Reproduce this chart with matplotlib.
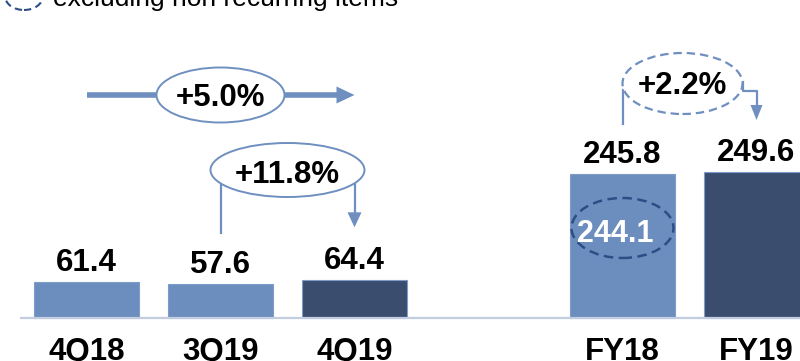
import matplotlib
matplotlib.use("Agg")
import matplotlib.pyplot as plt
from matplotlib.patches import Ellipse, Polygon

plt.rcParams['font.family'] = ['Liberation Sans', 'DejaVu Sans']

# ---- data -------------------------------------------------------------
categories = ["4Q18", "3Q19", "4Q19", "FY18", "FY19"]
slots = [0, 1, 2, 4, 5]
values = [61.4, 57.6, 64.4, 245.8, 249.6]
value_labels = ["61.4", "57.6", "64.4", "245.8", "249.6"]
adjusted_fy18 = 244.1
adjusted_label = "244.1"
growth_labels = ["+5.0%", "+11.8%", "+2.2%"]
legend_text = "excluding non recurring items"

# ---- style ------------------------------------------------------------
LIGHT = "#6C8EBF"
DARK = "#3A4D6E"
EDGE = "#7F9BC7"
LINE = "#6F8FC0"
NAVY = "#2C4E86"
AXIS = "#C3CDE0"
bar_colors = [LIGHT, LIGHT, DARK, LIGHT, DARK]

W, H, DPI = 800, 361, 100
SLOT_PX = 134.0          # pixels between neighbouring slots
SLOT0_PX = 86.5          # pixel x of slot 0
UNIT_PX = 0.585          # pixels per value unit
BASE_PX = 318.0          # pixel row of the zero line (from top)

fig = plt.figure(figsize=(W / DPI, H / DPI), dpi=DPI)
ax = fig.add_axes([0, 0, 1, 1])
ax.set_xlim(-SLOT0_PX / SLOT_PX, (W - SLOT0_PX) / SLOT_PX)
ax.set_ylim(-(H - BASE_PX) / UNIT_PX, BASE_PX / UNIT_PX)
ax.axis("off")


def dx(px):
    """horizontal pixel length -> data units"""
    return px / SLOT_PX


def dy(px):
    """vertical pixel length -> data units"""
    return px / UNIT_PX


def arrow_head(x, y_tip, length_px, width_px, direction, color):
    if direction == "down":
        pts = [(x, y_tip), (x - dx(width_px / 2), y_tip + dy(length_px)),
               (x + dx(width_px / 2), y_tip + dy(length_px))]
    else:  # right
        pts = [(x, y_tip), (x - dx(length_px), y_tip + dy(width_px / 2)),
               (x - dx(length_px), y_tip - dy(width_px / 2))]
    ax.add_patch(Polygon(pts, closed=True, facecolor=color, edgecolor="none", zorder=4))


# ---- bars -------------------------------------------------------------
ax.bar(slots, values, width=0.78, color=bar_colors, edgecolor=EDGE,
       linewidth=0.8, zorder=2)
ax.plot([dx(20 - SLOT0_PX), dx(W - SLOT0_PX) + 0.1], [0, 0], color=AXIS,
        lw=1.6, solid_capstyle="butt", zorder=3)

for s, v, lab in zip(slots, values, value_labels):
    ax.annotate(lab, (s, v), xytext=(0, 8), textcoords="offset points",
                ha="center", va="baseline", fontsize=22.5, fontweight="bold",
                color="black", zorder=5)

for s, c in zip(slots, categories):
    ax.text(s, -(H - 1 - BASE_PX) / UNIT_PX, c, ha="center", va="baseline",
            fontsize=22.5, fontweight="bold", color="black", zorder=5)

# ---- growth 4Q18 -> 4Q19 (horizontal arrow) ---------------------------
y1 = dy(BASE_PX - 95)
x_start, x_end = slots[0], slots[2]
ax.plot([x_start, x_end - dx(16)], [y1, y1], color=LINE, lw=4.0,
        solid_capstyle="butt", zorder=3)
arrow_head(x_end, y1, 18, 17, "right", LINE)
cx1 = (x_start + x_end) / 2
ax.add_patch(Ellipse((cx1, y1), dx(128), dy(55), facecolor="white",
                     edgecolor=LINE, lw=1.4, zorder=4))
ax.text(cx1, y1 - dy(11), growth_labels[0], ha="center", va="baseline",
        fontsize=22.5, fontweight="bold", color="black", zorder=6)

# ---- growth 3Q19 -> 4Q19 (bracket arrow) ------------------------------
y2 = dy(BASE_PX - 170)
xa, xb = slots[1], slots[2]
ax.plot([xa, xa], [y2, values[1] + dy(51)], color=LINE, lw=1.6, zorder=3)
ax.plot([xb, xb], [y2, values[2] + dy(66)], color=LINE, lw=1.6, zorder=3)
arrow_head(xb, values[2] + dy(53), 15, 14, "down", LINE)
cx2 = (xa + xb) / 2
ax.add_patch(Ellipse((cx2, y2), dx(154), dy(54), facecolor="white",
                     edgecolor=LINE, lw=1.4, zorder=4))
ax.text(cx2, y2 - dy(13), growth_labels[1], ha="center", va="baseline",
        fontsize=22.5, fontweight="bold", color="black", zorder=6)

# ---- growth FY18 (adjusted) -> FY19 (dashed bracket arrow) ------------
y3 = dy(BASE_PX - 83.5)
xc, xd = slots[3], slots[4]
cx3 = xc + dx(60)
ax.plot([xc, xc], [values[3] + dy(50), dy(BASE_PX - 90)], color=LINE,
        lw=1.6, zorder=3)
xr = cx3 + dx(60)
yk = dy(BASE_PX - 91)
ax.plot([xr, xr, xd, xd], [dy(BASE_PX - 82), yk, yk, values[4] + dy(67)],
        color=LINE, lw=1.6, zorder=3)
arrow_head(xd, values[4] + dy(52), 15, 12, "down", LINE)
ax.add_patch(Ellipse((cx3, y3), dx(120), dy(61), facecolor="white",
                     edgecolor=LINE, lw=1.6, linestyle=(0, (3.8, 2.2)),
                     zorder=4))
ax.text(cx3, y3 - dy(10), growth_labels[2], ha="center", va="baseline",
        fontsize=22.5, fontweight="bold", color="black", zorder=6)

# ---- adjusted FY18 value inside its bar -------------------------------
ya = dy(BASE_PX - 228)
ax.add_patch(Ellipse((xc, ya), dx(102), dy(60), facecolor="none",
                     edgecolor=NAVY, lw=1.8, linestyle=(0, (3.8, 2.2)),
                     zorder=4))
ax.text(xc - dx(7), ya - dy(14), adjusted_label, ha="center", va="baseline",
        fontsize=22, fontweight="bold", color="white", zorder=6)

# ---- legend note at the top -------------------------------------------
ax.add_patch(Ellipse((dx(24 - SLOT0_PX), dy(BASE_PX + 4)), dx(38), dy(28),
                     facecolor="none", edgecolor=NAVY, lw=1.5,
                     linestyle=(0, (3.5, 2.2)), zorder=4))
fig.text(53 / W, 1 - 6 / H, legend_text, ha="left", va="baseline",
         fontsize=19, color="black")

fig.savefig("out.png", dpi=DPI)
